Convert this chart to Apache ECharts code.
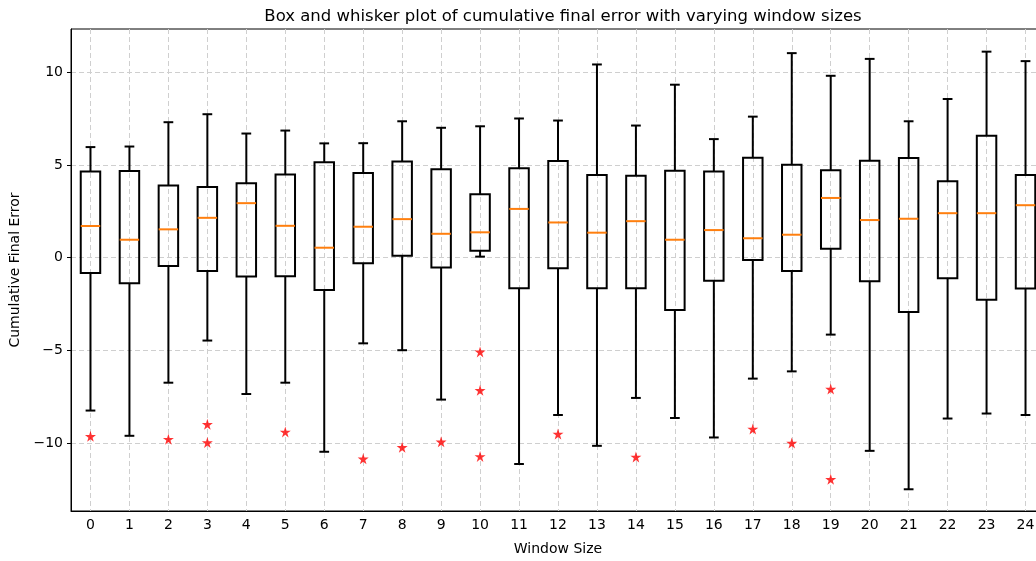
<!DOCTYPE html>
<html>
<head>
<meta charset="utf-8">
<script src="https://cdn.jsdelivr.net/npm/echarts@6/dist/echarts.min.js"></script>
<style>
  html, body { margin: 0; padding: 0; background: #fff; overflow: hidden; width: 1036px; height: 561px; }
  /* the original figure is cropped on the right, so the canvas runs past the window */
  #boxChart { width: 1045px; height: 561px; }
</style>
</head>
<body>
<div id="boxChart"></div>
<script>
// window sizes on the x axis
var windowSizes = ['0','1','2','3','4','5','6','7','8','9','10','11','12',
                   '13','14','15','16','17','18','19','20','21','22','23','24'];

// box stats per window size
var whiskerLow  = [-8.23,-9.59,-6.73,-4.46,-7.34,-6.73,-10.45,-4.61,-4.98,-7.64,0.06,-11.11,-8.47,
                   -10.13,-7.55,-8.63,-9.68,-6.51,-6.12,-4.14,-10.40,-12.47,-8.66,-8.39,-8.47];
var quart1      = [-0.82,-1.37,-0.44,-0.71,-1.01,-0.99,-1.74,-0.29,0.11,-0.53,0.38,-1.64,-0.56,
                   -1.64,-1.64,-2.82,-1.24,-0.12,-0.71,0.49,-1.26,-2.92,-1.10,-2.26,-1.66];
var medians     = [1.71,0.97,1.53,2.15,2.94,1.72,0.54,1.67,2.08,1.29,1.37,2.63,1.90,
                   1.35,1.97,0.97,1.49,1.05,1.24,3.22,2.03,2.10,2.40,2.40,2.83];
var quart3      = [4.64,4.67,3.89,3.81,4.01,4.48,5.14,4.56,5.19,4.76,3.42,4.82,5.21,
                   4.46,4.42,4.69,4.64,5.39,5.01,4.71,5.23,5.37,4.12,6.57,4.46];
var whiskerHigh = [5.96,5.99,7.30,7.73,6.69,6.85,6.16,6.17,7.35,7.00,7.08,7.50,7.39,
                   10.41,7.12,9.32,6.39,7.60,11.02,9.80,10.71,7.35,8.55,11.10,10.59];

// outliers: [window index, value]
var outliers = [[0,-9.62],[2,-9.77],[3,-8.97],[3,-9.95],[5,-9.38],[7,-10.83],[8,-10.21],
                [9,-9.91],[10,-5.07],[10,-7.14],[10,-10.70],[12,-9.49],[14,-10.73],
                [17,-9.22],[18,-9.98],[19,-7.07],[19,-11.93]];

var boxData = windowSizes.map(function (w, i) {
    return [i, whiskerLow[i], quart1[i], medians[i], quart3[i], whiskerHigh[i]];
});

var starPath = 'path://M50,0 L61,35 L98,35 L68,57 L79,91 L50,70 L21,91 L32,57 L2,35 L39,35 Z';
var font = 'DejaVu Sans';
var dashed = { color: '#cfcfcf', type: [5, 3], width: 1 };

function renderBox(params, api) {
    var i = api.value(0);
    var pLow = api.coord([i, api.value(1)]);
    var pQ1 = api.coord([i, api.value(2)]);
    var pMed = api.coord([i, api.value(3)]);
    var pQ3 = api.coord([i, api.value(4)]);
    var pHigh = api.coord([i, api.value(5)]);
    var band = api.size([1, 0])[0];
    var hw = band * 0.25, cw = band * 0.125;
    var x = pMed[0];
    var black = { stroke: '#000', lineWidth: 2, fill: null };
    return {
        type: 'group',
        children: [
            { type: 'line', shape: { x1: x, y1: pQ3[1], x2: x, y2: pHigh[1] }, style: black },
            { type: 'line', shape: { x1: x, y1: pQ1[1], x2: x, y2: pLow[1] }, style: black },
            { type: 'line', shape: { x1: x - cw, y1: pHigh[1], x2: x + cw, y2: pHigh[1] }, style: black },
            { type: 'line', shape: { x1: x - cw, y1: pLow[1], x2: x + cw, y2: pLow[1] }, style: black },
            { type: 'rect', shape: { x: x - hw, y: pQ3[1], width: hw * 2, height: pQ1[1] - pQ3[1] },
              style: { stroke: '#000', lineWidth: 2, fill: 'none' } },
            { type: 'line', shape: { x1: x - hw, y1: pMed[1], x2: x + hw, y2: pMed[1] },
              style: { stroke: '#ff7f0e', lineWidth: 2 } }
        ]
    };
}

var dom = document.getElementById('boxChart');
var myChart = echarts.init(dom);

var option = {
    animation: false,
    backgroundColor: '#fff',
    title: {
        text: 'Box and whisker plot of cumulative final error with varying window sizes',
        left: 558,
        top: 3,
        textAlign: 'center',
        textStyle: { fontFamily: font, fontSize: 16.5, fontWeight: 'normal', color: '#000' }
    },
    grid: {
        left: 71, right: 0, top: 29, bottom: 48,
        show: true, borderColor: '#000', borderWidth: 1, backgroundColor: 'transparent'
    },
    xAxis: {
        type: 'category',
        data: windowSizes,
        boundaryGap: true,
        name: 'Window Size',
        nameLocation: 'middle',
        nameGap: 31,
        nameTextStyle: { fontFamily: font, fontSize: 14, color: '#000' },
        axisLine: { onZero: false, lineStyle: { color: '#000', width: 1 } },
        axisTick: { alignWithLabel: true, length: 4, lineStyle: { color: '#000' } },
        axisLabel: { fontFamily: font, fontSize: 14, color: '#000', margin: 7, interval: 0 },
        splitLine: { show: true, alignWithLabel: true, lineStyle: dashed }
    },
    yAxis: {
        type: 'value',
        min: -13.64,
        max: 12.32,
        splitNumber: 5,
        name: 'Cumulative Final Error',
        nameLocation: 'middle',
        nameGap: 46,
        nameTextStyle: { fontFamily: font, fontSize: 14, color: '#000' },
        axisLine: { show: true, onZero: false, lineStyle: { color: '#000', width: 1 } },
        axisTick: { show: true, length: 4, lineStyle: { color: '#000' } },
        axisLabel: {
            fontFamily: font, fontSize: 14, color: '#000', margin: 8,
            showMinLabel: false, showMaxLabel: false,
            formatter: function (v) { return v < 0 ? '\u2212' + Math.abs(v) : String(v); }
        },
        splitLine: { show: true, showMinLine: false, showMaxLine: false, lineStyle: dashed }
    },
    series: [
        {
            name: 'boxes',
            type: 'custom',
            renderItem: renderBox,
            encode: { x: 0, y: [1, 2, 3, 4, 5] },
            data: boxData,
            z: 3
        },
        {
            name: 'outliers',
            type: 'scatter',
            symbol: starPath,
            symbolSize: 11,
            itemStyle: { color: '#ff0000' },
            data: outliers,
            z: 4
        }
    ]
};

myChart.setOption(option, true);
</script>
</body>
</html>
